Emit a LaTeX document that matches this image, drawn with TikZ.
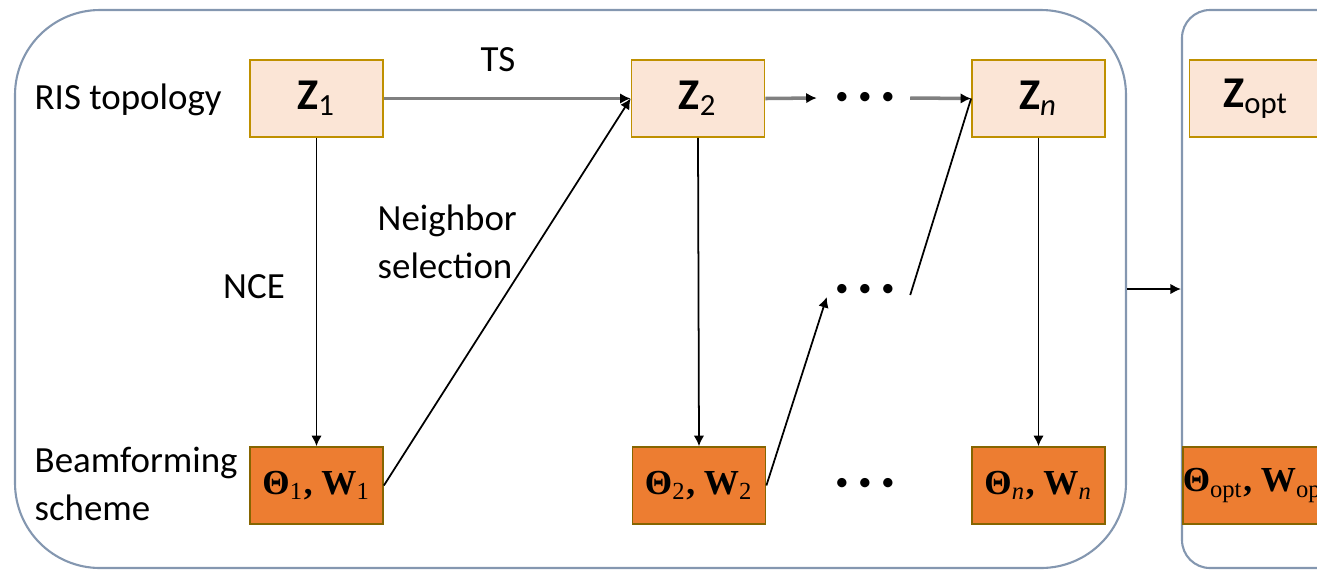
\documentclass[tikz,border=0pt]{standalone}
\usepackage{fontspec}
\setmainfont{Carlito}
\newfontfamily\tnr{Liberation Serif}
\usetikzlibrary{arrows.meta}

\definecolor{topofill}{HTML}{FBE5D6}
\definecolor{boxedge}{HTML}{BF9000}
\definecolor{beamfill}{HTML}{ED7D31}
\definecolor{frameline}{HTML}{8497B0}

\begin{document}
\begin{tikzpicture}[x=0.1mm, y=-0.1mm,
  topo/.style={draw=boxedge, fill=topofill, line width=0.5pt,
    minimum width=13.3mm, minimum height=7.7mm, inner sep=0pt,
    font=\fontsize{12.5}{14}\selectfont},
  beam/.style={draw=boxedge!70!black, fill=beamfill, line width=0.5pt,
    minimum width=13.3mm, minimum height=7.7mm, inner sep=0pt,
    font=\tnr\fontsize{10}{12}\selectfont\bfseries},
  frame/.style={draw=frameline, line width=0.6pt, minimum height=55.8mm},
  lbl/.style={font=\fontsize{10.5}{13.5}\selectfont, inner sep=0pt},
  skipdots/.style={inner sep=0pt, font=\fontsize{7.5}{7.5}\selectfont},
  flow/.style={gray, line width=1pt, -{Latex[length=3pt,width=3pt,color=black]}},
  down/.style={line width=0.5pt, -{Latex[length=3pt,width=3pt]}}
]
  \useasboundingbox (0,0) rectangle (1317,570);
  \clip (0,0) rectangle (1317,570);

  % Frames
  \node[frame, rounded corners=8.5mm, minimum width=111.1mm] (search) at (570.5,289) {};
  \node[frame, rounded corners=2.8mm, minimum width=19.8mm] (result) at (1281,289) {};

  % Row labels
  \node[lbl, anchor=west] (topolabel) at (34,100) {RIS topology};
  \node[lbl, anchor=west, align=left] (beamlabel) at (34,484) {Beamforming\\scheme};

  % Topology boxes
  \node[topo] (Z1) at (316.5,98.5) {\textbf{Z}\textsubscript{1}};
  \node[topo] (Z2) at (698,98.5) {\textbf{Z}\textsubscript{2}};
  \node[topo] (Zn) at (1038.5,98.5) {\textbf{Z}\textsubscript{\itshape n}};
  \node[topo] (Zopt) at (1256,98.5) {\textbf{Z}\textsubscript{opt}};

  % Beamforming boxes
  \node[beam] (T1) at (316.5,485.5) {Θ\textsubscript{\mdseries 1}, W\textsubscript{\mdseries 1}};
  \node[beam] (T2) at (699,485.5) {Θ\textsubscript{\mdseries 2}, W\textsubscript{\mdseries 2}};
  \node[beam] (Tn) at (1038.5,485.5) {Θ\textsubscript{\mdseries\itshape n}, W\textsubscript{\mdseries\itshape n}};
  \node[beam] (Topt) at (1256,485.5) {Θ\textsubscript{\mdseries opt}, W\textsubscript{\mdseries opt}};

  % Dots
  \node[skipdots] (dotsT) at (865,98) {\textbullet\hspace{2.8pt}\textbullet\hspace{2.8pt}\textbullet};
  \node[skipdots] (dotsM) at (865,290) {\textbullet\hspace{2.8pt}\textbullet\hspace{2.8pt}\textbullet};
  \node[skipdots] (dotsB) at (865,484) {\textbullet\hspace{2.8pt}\textbullet\hspace{2.8pt}\textbullet};

  % Edge labels
  \node[lbl] (ts) at (498,60) {TS};
  \node[lbl] (nce) at (254,287) {NCE};
  \node[lbl, anchor=west, align=left] (nbr) at (377,242) {Neighbor\\selection};

  % Connectors
  \draw[flow] (Z1.east) -- (Z2.west);
  \draw[flow] (Z2.east) -- ([xshift=-1.8mm]dotsT.west);
  \draw[flow] ([xshift=1.5mm]dotsT.east) -- (Zn.west);
  \draw[down] (Z1.south) -- (T1.north);
  \draw[down] (Z2.south) -- (T2.north);
  \draw[down] (Zn.south) -- (Tn.north);
  \draw[down] (T1.east) -- (Z2.west);
  \draw[down] (T2.east) -- ([xshift=-0.8mm,yshift=-0.7mm]dotsM.west);
  \draw[line width=0.5pt] ([xshift=1.5mm,yshift=-0.5mm]dotsM.east) -- (Zn.west);
  \draw[down] (search.east) -- (result.west);
\end{tikzpicture}
\end{document}
